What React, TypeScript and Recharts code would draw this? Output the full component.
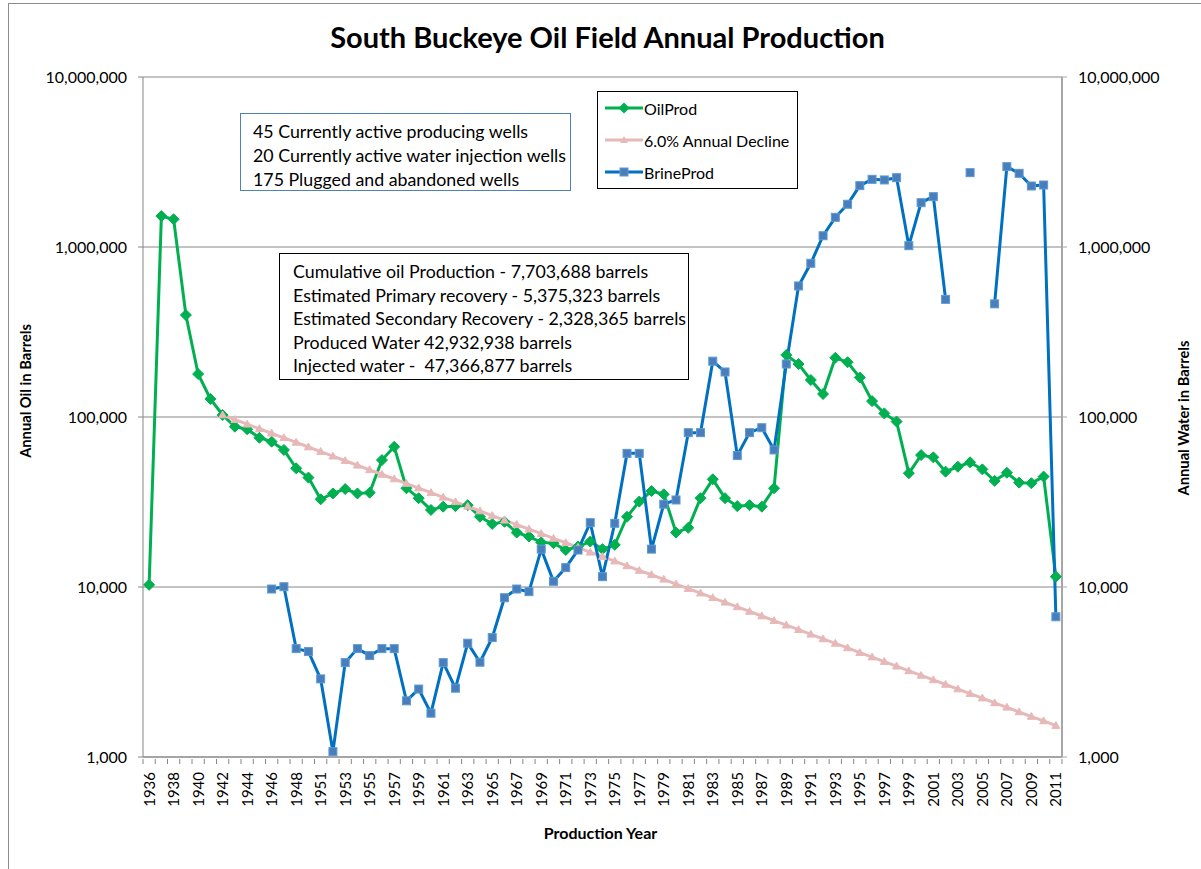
import React from 'react';
import { LineChart, Line, XAxis, YAxis, CartesianGrid } from 'recharts';

const years = [
  1936, 1937, 1938, 1939, 1940, 1941, 1942, 1943, 1944, 1945, 1946, 1947, 1948, 1949,
  1951, 1952, 1953, 1954, 1955, 1956, 1957, 1958, 1959, 1960, 1961, 1962, 1963, 1964, 1965,
  1966, 1967, 1968, 1969, 1970, 1971, 1972, 1973, 1974, 1975, 1976, 1977, 1978, 1979, 1980,
  1981, 1982, 1983, 1984, 1985, 1986, 1987, 1988, 1989, 1990, 1991, 1992, 1993, 1994, 1995,
  1996, 1997, 1998, 1999, 2000, 2001, 2002, 2003, 2004, 2005, 2006, 2007, 2008, 2009, 2010, 2011,
];

const oilProd = [
  10300, 1520000, 1456000, 398000, 179000, 127700, 102700, 87700, 84700, 75500, 71600, 64000, 49900, 44000,
  32800, 35500, 37700, 35500, 35900, 55800, 66800, 38100, 33300, 28400, 29700, 29900, 30300, 25900, 23500,
  24200, 20900, 19800, 18300, 18100, 16500, 17300, 18500, 16700, 17700, 25900, 31800, 36700, 35100, 20900,
  22300, 33300, 43000, 33300, 29900, 30300, 29700, 38100, 231700, 205000, 165000, 136500, 223000, 210000, 170800,
  124000, 105000, 94000, 46700, 59700, 57900, 47700, 51000, 54100, 49200, 42100, 47000, 41100, 40800, 44600, 11500,
];

const annualDecline = [
  null, null, null, null, null, null,
  102700, 96500, 90700, 85300, 80200, 75400, 70900, 66600, 62600, 58800,
  55300, 52000, 48900, 45900, 43200, 40600, 38200, 35900, 33700, 31700,
  29800, 28000, 26300, 24700, 23300, 21900, 20600, 19300, 18200, 17100,
  16000, 15100, 14200, 13300, 12500, 11800, 11100, 10400, 9780, 9200,
  8640, 8130, 7640, 7180, 6750, 6340, 5960, 5610, 5270, 4950,
  4660, 4380, 4110, 3870, 3640, 3420, 3210, 3020, 2840, 2670,
  2510, 2360, 2220, 2080, 1960, 1840, 1730, 1630, 1530,
];

const brineProd = [
  null, null, null, null, null, null, null, null, null, null, 9730, 10040, 4340, 4170,
  2880, 1075, 3590, 4340, 3950, 4340, 4340, 2140, 2510, 1810, 3590, 2540, 4670, 3610, 5040,
  8650, 9730, 9390, 16700, 10800, 13000, 16500, 23900, 11500, 23700, 61100, 61100, 16700, 30700, 32500,
  80900, 80900, 213000, 184000, 59300, 80900, 86500, 64000, 205000, 590000, 802000, 1165000, 1495000, 1784000, 2295000,
  2500000, 2480000, 2557000, 1018000, 1823000, 1978000, 492000, null, 2737000, null, 463000, 2970000, 2712000, 2285000, 2316000, 6680,
];

const logTicks = [1000, 10000, 100000, 1000000, 10000000];

const infoLines = [
  '45 Currently active producing wells',
  '20 Currently active water injection wells',
  '175 Plugged and abandoned wells',
];

const totalsLines = [
  'Cumulative oil Production - 7,703,688 barrels',
  'Estimated Primary recovery - 5,375,323 barrels',
  'Estimated Secondary Recovery - 2,328,365 barrels',
  'Produced Water 42,932,938 barrels',
  'Injected water -  47,366,877 barrels',
];

const data = years.map((year, i) => ({
  year: String(year),
  oil: oilProd[i],
  decline: annualDecline[i],
  brine: brineProd[i],
}));

const FONT = 'Lato, "Open Sans", sans-serif';
const OIL = '#00B050';
const DECLINE = '#E6B9B8';
const BRINE = '#0070C0';
const BAND = 919 / years.length;

const fmt = (v: number) => v.toLocaleString('en-US');

const Diamond = (props: any) => {
  const { cx, cy, index } = props;
  if (cx == null || cy == null) return <g key={`d-${index}`} />;
  const r = 5.5;
  return (
    <polygon
      key={`d-${index}`}
      points={`${cx},${cy - r} ${cx + r},${cy} ${cx},${cy + r} ${cx - r},${cy}`}
      fill={OIL}
      stroke={OIL}
      strokeWidth={1}
    />
  );
};

const Triangle = (props: any) => {
  const { cx, cy, index } = props;
  if (cx == null || cy == null) return <g key={`t-${index}`} />;
  const r = 4;
  return (
    <polygon
      key={`t-${index}`}
      points={`${cx},${cy - r} ${cx + r},${cy + r * 0.7} ${cx - r},${cy + r * 0.7}`}
      fill={DECLINE}
      stroke={DECLINE}
    />
  );
};

const Square = (props: any) => {
  const { cx, cy, index } = props;
  if (cx == null || cy == null) return <g key={`s-${index}`} />;
  const s = 8;
  return (
    <rect
      key={`s-${index}`}
      x={cx - s / 2}
      y={cy - s / 2}
      width={s}
      height={s}
      fill="#4A7EBB"
      stroke="#5B9BD5"
      strokeWidth={1}
    />
  );
};

const YearTick = (props: any) => {
  const { x, y, payload, index } = props;
  const last = index === years.length - 1;
  return (
    <g>
      <line x1={x - BAND / 2} y1={y - 6} x2={x - BAND / 2} y2={y - 1} stroke="#868686" />
      {last && <line x1={x + BAND / 2} y1={y - 6} x2={x + BAND / 2} y2={y - 1} stroke="#868686" />}
      {index % 2 === 0 && (
        <text
          transform={`translate(${x + 5.5},${y + 7}) rotate(-90)`}
          textAnchor="end"
          fontSize={15}
          fontFamily={FONT}
          fill="#000"
        >
          {payload.value}
        </text>
      )}
    </g>
  );
};

const LegendRow: React.FC<{ color: string; label: string; marker: 'diamond' | 'triangle' | 'square' }> = ({ color, label, marker }) => (
  <div style={{ display: 'flex', alignItems: 'center', height: 32 }}>
    <svg width={38} height={14} style={{ marginRight: 1 }}>
      <line x1={0} y1={7} x2={38} y2={7} stroke={color} strokeWidth={3} />
      {marker === 'diamond' && <polygon points="19,1.5 24.5,7 19,12.5 13.5,7" fill={color} />}
      {marker === 'triangle' && <polygon points="19,3 23,10 15,10" fill={color} />}
      {marker === 'square' && <rect x={15} y={3} width={8} height={8} fill="#4A7EBB" stroke="#5B9BD5" />}
    </svg>
    <span>{label}</span>
  </div>
);

export default function App() {
  return (
    <div style={{ position: 'absolute', left: 0, top: 0, width: 1201, height: 869, background: '#fff', fontFamily: FONT, color: '#000', overflow: 'hidden' }}>
      <div style={{ position: 'absolute', left: 8, top: 3, width: 1200, height: 870, borderLeft: '1px solid #8c8c8c', borderTop: '1px solid #8c8c8c' }} />
      <div style={{ position: 'absolute', left: 0, width: 1215, top: 19, textAlign: 'center', fontWeight: 700, fontSize: 29 }}>
        South Buckeye Oil Field Annual Production
      </div>

      <div style={{ position: 'absolute', left: 0, top: 0 }}>
        <LineChart width={1201} height={869} data={data} margin={{ top: 77, right: 0, bottom: 52, left: 0 }}>
          <CartesianGrid yAxisId="left" vertical={false} stroke="#868686" />
          <XAxis
            dataKey="year"
            interval={0}
            height={60}
            padding={{ left: BAND / 2, right: BAND / 2 }}
            tickLine={false}
            tick={<YearTick />}
            axisLine={{ stroke: '#868686' }}
          />
          <YAxis
            yAxisId="left"
            scale="log"
            domain={[1000, 10000000]}
            ticks={logTicks}
            allowDataOverflow
            width={143}
            tickSize={5}
            tickMargin={11}
            tickFormatter={fmt}
            axisLine={{ stroke: '#868686' }}
            tickLine={{ stroke: '#868686' }}
            tick={{ fontSize: 16, fontFamily: FONT, fill: '#000' }}
          />
          <YAxis
            yAxisId="right"
            orientation="right"
            scale="log"
            domain={[1000, 10000000]}
            ticks={logTicks}
            allowDataOverflow
            width={139}
            tickSize={5}
            tickMargin={11}
            tickFormatter={fmt}
            axisLine={{ stroke: '#a6a6a6', strokeWidth: 2 }}
            tickLine={{ stroke: '#a6a6a6' }}
            tick={{ fontSize: 16, fontFamily: FONT, fill: '#000' }}
          />
          <Line yAxisId="left" dataKey="oil" stroke={OIL} strokeWidth={3} dot={<Diamond />} isAnimationActive={false} />
          <Line yAxisId="left" dataKey="decline" stroke={DECLINE} strokeWidth={3} dot={<Triangle />} isAnimationActive={false} />
          <Line yAxisId="right" dataKey="brine" stroke={BRINE} strokeWidth={3} dot={<Square />} isAnimationActive={false} />
        </LineChart>
      </div>

      <div
        style={{
          position: 'absolute', left: 240, top: 113, width: 331, height: 78, boxSizing: 'border-box',
          border: '1px solid #4F81BD', background: '#fff', padding: '5px 0 0 12px', fontSize: 17.8, lineHeight: '24px', whiteSpace: 'pre',
        }}
      >
        {infoLines.map(l => <div key={l}>{l}</div>)}
      </div>

      <div
        style={{
          position: 'absolute', left: 279, top: 253, width: 410, height: 127, boxSizing: 'border-box',
          border: '1px solid #000', background: '#fff', padding: '6px 0 0 13px', fontSize: 17.8, lineHeight: '23.5px', whiteSpace: 'pre',
        }}
      >
        {totalsLines.map(l => <div key={l}>{l}</div>)}
      </div>

      <div
        style={{
          position: 'absolute', left: 597, top: 91, width: 201, height: 98, boxSizing: 'border-box',
          border: '1px solid #000', background: '#fff', padding: '0 0 0 7px', fontSize: 16,
        }}
      >
        <LegendRow color={OIL} label="OilProd" marker="diamond" />
        <LegendRow color={DECLINE} label="6.0% Annual Decline" marker="triangle" />
        <LegendRow color={BRINE} label="BrineProd" marker="square" />
      </div>

      <div style={{ position: 'absolute', left: 25, top: 391, transform: 'translate(-50%,-50%) rotate(-90deg)', fontWeight: 700, fontSize: 14.7, whiteSpace: 'nowrap' }}>
        Annual Oil in Barrels
      </div>
      <div style={{ position: 'absolute', left: 1183, top: 418, transform: 'translate(-50%,-50%) rotate(-90deg)', fontWeight: 700, fontSize: 14.7, whiteSpace: 'nowrap' }}>
        Annual Water in Barrels
      </div>
      <div style={{ position: 'absolute', left: 0, width: 1201, top: 823, textAlign: 'center', fontWeight: 700, fontSize: 16 }}>
        Production Year
      </div>
    </div>
  );
}
